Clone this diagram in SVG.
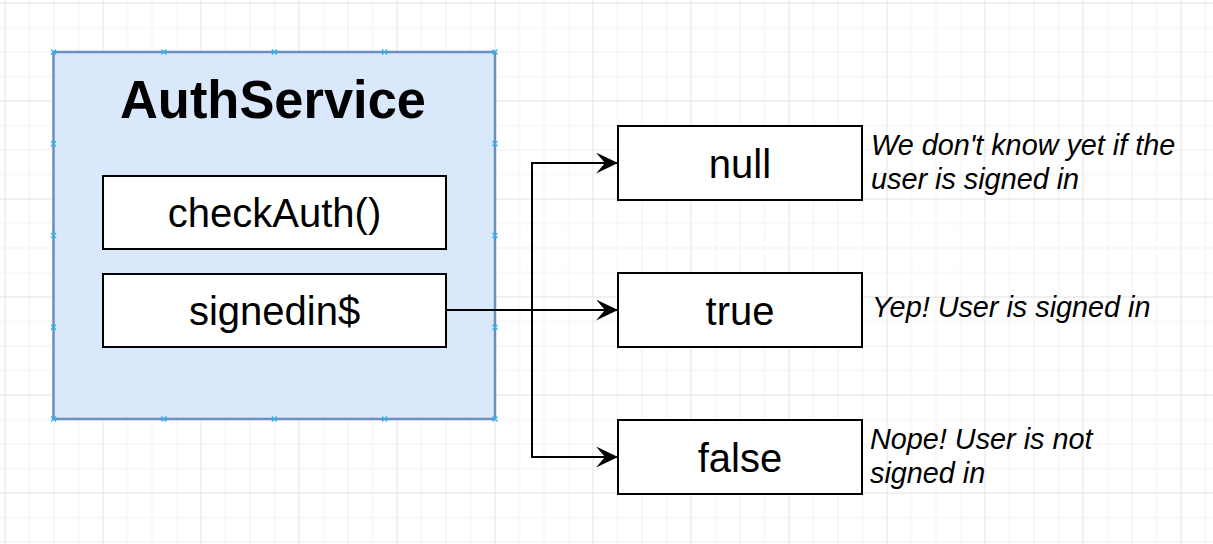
<svg xmlns="http://www.w3.org/2000/svg" width="1213" height="544" viewBox="0 0 1213 544">
  <style>
    .box { fill: #ffffff; stroke: #000000; stroke-width: 2; }
    .lbl { font-family: "Liberation Sans", Arial, sans-serif; font-size: 40px; fill: #000; text-anchor: middle; }
    .note { font-family: "Liberation Sans", Arial, sans-serif; font-size: 28.8px; font-style: italic; fill: #000; }
    .edge { fill: none; stroke: #000; stroke-width: 2; }
    .pt { stroke: #2fb3ef; stroke-width: 1.3; fill: none; }
  </style>
  <defs>
    <pattern id="grid" patternUnits="userSpaceOnUse" x="4.5" y="2.5" width="98" height="98">
      <path d="M25 0V98M49.5 0V98M74 0V98M0 25H98M0 49.5H98M0 74H98" stroke="#f0f0f0" stroke-width="1" fill="none"/>
      <path d="M0.5 0V98M0 0.5H98" stroke="#e3e3e3" stroke-width="1" fill="none"/>
    </pattern>
    <marker id="arrow" viewBox="0 0 22 21" refX="22" refY="10.5" markerWidth="22" markerHeight="21" markerUnits="userSpaceOnUse" orient="auto">
      <path d="M22 10.5L0 0L9 10.5L0 21Z" fill="#000"/>
    </marker>
  </defs>
  <rect width="1213" height="544" fill="#ffffff"/>
  <rect width="1213" height="544" fill="url(#grid)"/>

  <g id="authservice">
    <rect x="53.5" y="52" width="441.5" height="367" fill="#dae8fc" stroke="#6c8ebf" stroke-width="2.5"/>
    <text x="273" y="118" font-family="'Liberation Sans', Arial, sans-serif" font-size="53" font-weight="bold" text-anchor="middle" textLength="306" lengthAdjust="spacingAndGlyphs">AuthService</text>
    <g class="pt">
      <path d="M51 49.5l5 5M56 49.5l-5 5"/>
      <path d="M161.4 49.5l5 5M166.4 49.5l-5 5"/>
      <path d="M271.8 49.5l5 5M276.8 49.5l-5 5"/>
      <path d="M382.1 49.5l5 5M387.1 49.5l-5 5"/>
      <path d="M492.5 49.5l5 5M497.5 49.5l-5 5"/>
      <path d="M51 416.5l5 5M56 416.5l-5 5"/>
      <path d="M161.4 416.5l5 5M166.4 416.5l-5 5"/>
      <path d="M271.8 416.5l5 5M276.8 416.5l-5 5"/>
      <path d="M382.1 416.5l5 5M387.1 416.5l-5 5"/>
      <path d="M492.5 416.5l5 5M497.5 416.5l-5 5"/>
      <path d="M51 141.2l5 5M56 141.2l-5 5"/>
      <path d="M51 233l5 5M56 233l-5 5"/>
      <path d="M51 324.8l5 5M56 324.8l-5 5"/>
      <path d="M492.5 141.2l5 5M497.5 141.2l-5 5"/>
      <path d="M492.5 233l5 5M497.5 233l-5 5"/>
      <path d="M492.5 324.8l5 5M497.5 324.8l-5 5"/>
    </g>
  </g>

  <g id="checkauth">
    <rect class="box" x="103" y="176" width="343" height="73"/>
    <text class="lbl" x="274.5" y="227">checkAuth()</text>
  </g>

  <g id="signedin">
    <rect class="box" x="103" y="274" width="343" height="73"/>
    <text class="lbl" x="274.5" y="324.5">signedin$</text>
  </g>

  <g id="connectors">
    <path class="edge" d="M446 310H532V163H618" marker-end="url(#arrow)"/>
    <path class="edge" d="M446 310H618" marker-end="url(#arrow)"/>
    <path class="edge" d="M446 310H532V457H618" marker-end="url(#arrow)"/>
  </g>

  <g id="null">
    <rect class="box" x="618" y="126" width="244" height="74"/>
    <text class="lbl" x="740" y="177.5">null</text>
  </g>
  <g id="true">
    <rect class="box" x="618" y="273" width="244" height="74"/>
    <text class="lbl" x="740" y="324.5">true</text>
  </g>
  <g id="false">
    <rect class="box" x="618" y="420" width="244" height="74"/>
    <text class="lbl" x="740" y="471.5">false</text>
  </g>

  <g id="note-null">
    <text class="note" x="871" y="155">We don't know yet if the</text>
    <text class="note" x="871" y="188.5">user is signed in</text>
  </g>
  <g id="note-true">
    <text class="note" x="872" y="316.5">Yep! User is signed in</text>
  </g>
  <g id="note-false">
    <text class="note" x="870" y="448.5">Nope! User is not</text>
    <text class="note" x="870" y="483">signed in</text>
  </g>
</svg>
